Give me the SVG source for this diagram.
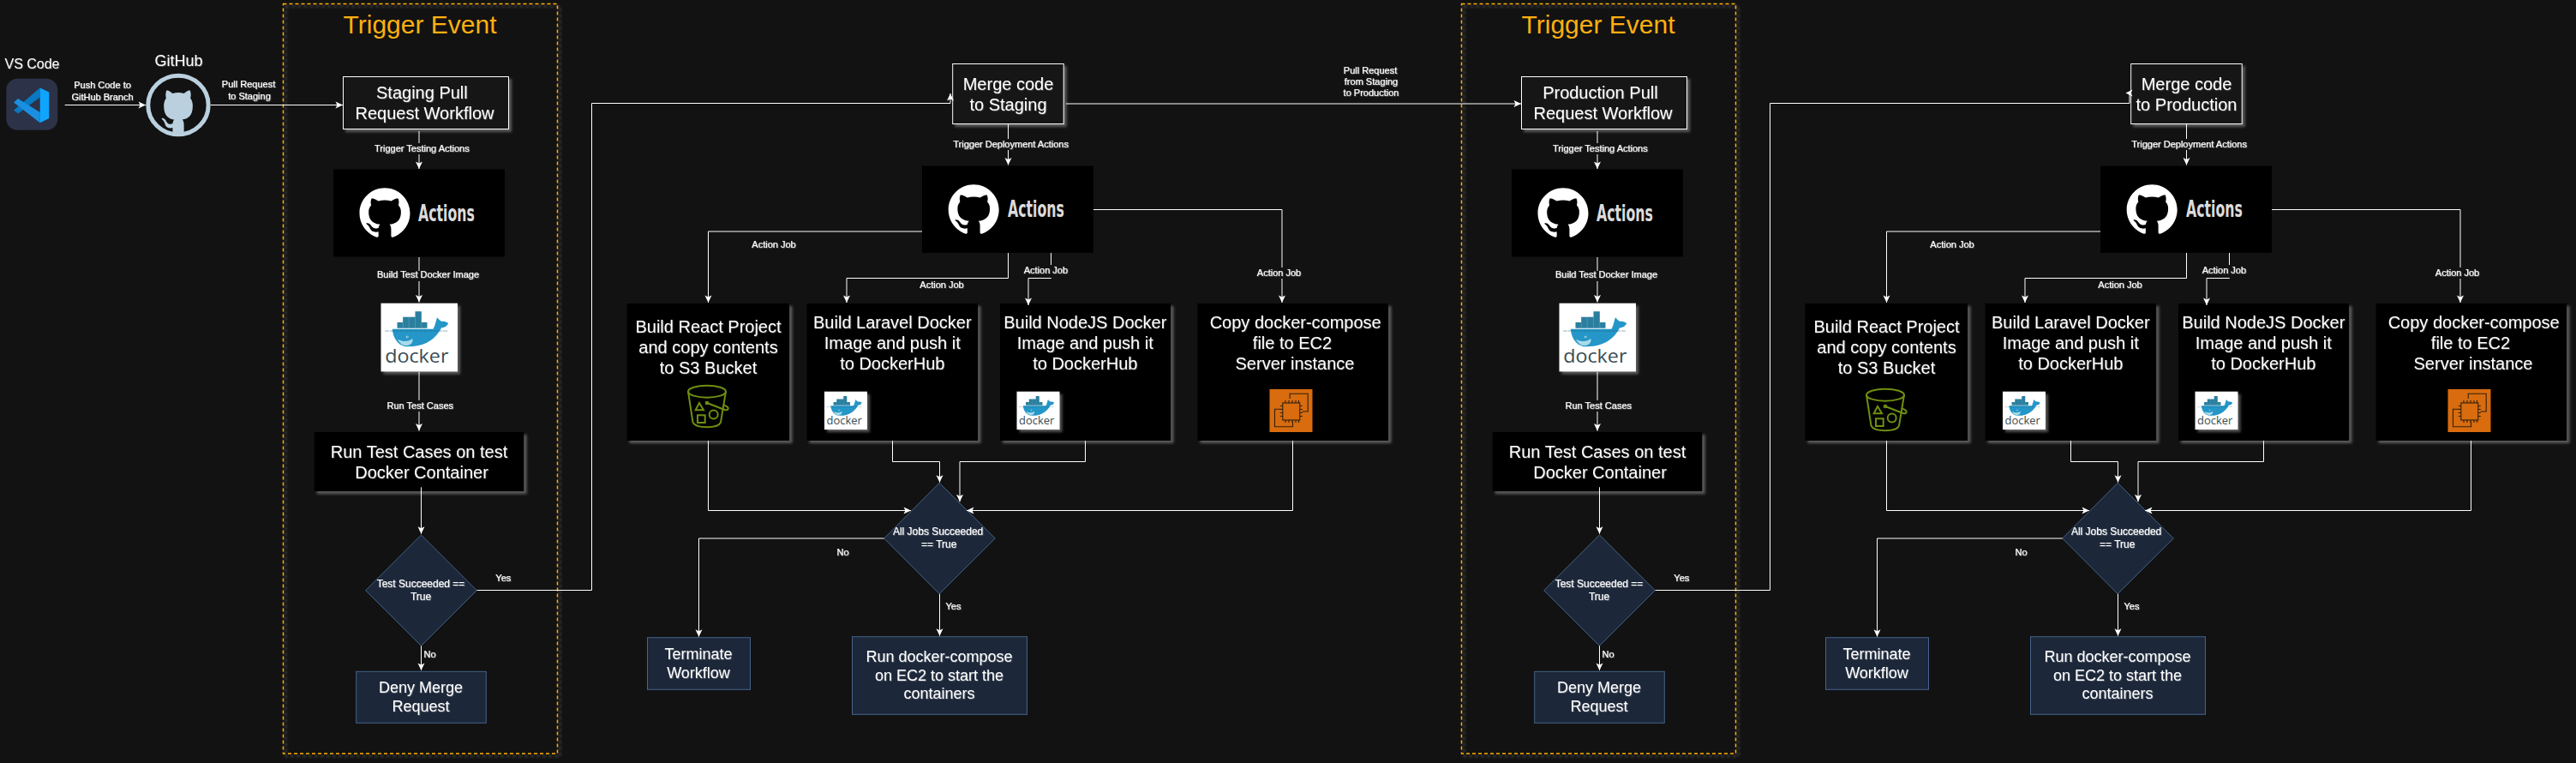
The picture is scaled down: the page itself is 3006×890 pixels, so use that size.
<svg xmlns="http://www.w3.org/2000/svg" width="3006" height="890" viewBox="0 0 3006 890">
<style>
text{font-family:"Liberation Sans",Arial,sans-serif;fill:#fff;text-anchor:middle}
.f11{font-size:11px;stroke:#fff;stroke-width:.2}.f12{font-size:12px;stroke:#fff;stroke-width:.15}.f16{font-size:16px}.f18{font-size:18px}.f20{font-size:20px}
.title{font-size:30px;fill:#ffb010}
.ts{filter:url(#tshadow)}
.shadow{filter:url(#shadow)}
.dash{fill:none;stroke:#ffb000;stroke-width:1.500;stroke-dasharray:4 3}
.wbox{fill:#121212;stroke:#fff;stroke-width:1}
.black{fill:#000}
.navy{fill:#1c2739;stroke:#45628c;stroke-width:1}
.white{fill:#fff}
.c{fill:none;stroke:#fff;stroke-width:1;marker-end:url(#arrow)}
.p{fill:none;stroke:#fff;stroke-width:1}
.lb{fill:#121212;stroke:none}
.act{font-family:"Liberation Sans Narrow","DejaVu Sans Condensed","Liberation Sans",sans-serif;font-size:27px;font-weight:700;fill:#dcdcdc;text-anchor:start}
.dk{font-family:"Open Sans","Liberation Sans",sans-serif;font-size:68px;fill:#394d54;text-anchor:start}
.s3{fill:none;stroke:#6f8f10;stroke-width:2}
.e2{fill:none;stroke:#33200c;stroke-width:1.1}
</style>
<defs>
<filter id="shadow" x="-10%" y="-10%" width="125%" height="125%"><feDropShadow dx="3" dy="3" stdDeviation="1.5" flood-color="#8a8a8a" flood-opacity=".6"/></filter>
<filter id="tshadow" x="-5%" y="-10%" width="110%" height="125%"><feDropShadow dx=".7" dy=".7" stdDeviation=".5" flood-color="#fff" flood-opacity=".3"/></filter>
<marker id="arrow" markerUnits="userSpaceOnUse" markerWidth="11" markerHeight="11" refX="9" refY="5" orient="auto"><path d="M0.5 1L9 5L0.5 9L2.5 5Z" fill="#fff"/></marker>
<path id="mark" fill="#fff" d="M12 .5C5.37.5 0 5.87 0 12.5c0 5.3 3.44 9.8 8.2 11.39.6.11.82-.26.82-.58v-2.03c-3.34.73-4.04-1.61-4.04-1.61-.55-1.39-1.33-1.76-1.33-1.76-1.09-.74.08-.73.08-.73 1.2.09 1.84 1.24 1.84 1.24 1.07 1.83 2.81 1.3 3.49 1 .11-.78.42-1.3.76-1.6-2.66-.3-5.47-1.33-5.47-5.93 0-1.31.47-2.38 1.24-3.22-.12-.3-.54-1.52.12-3.18 0 0 1.01-.32 3.3 1.23a11.5 11.5 0 0 1 6.02 0c2.29-1.55 3.3-1.23 3.3-1.23.66 1.66.24 2.88.12 3.18.77.84 1.24 1.91 1.24 3.22 0 4.61-2.81 5.63-5.48 5.92.43.37.81 1.1.81 2.22v3.29c0 .32.22.7.83.58C20.57 22.3 24 17.8 24 12.5 24 5.87 18.63.5 12 .5z"/>
<g id="whale">
<path fill="#2b7f9e" d="M120 29h22v20h-22zM77 48h65v19H77zM57 67h105v20H57z"/>
<path fill="none" stroke="#7fb6c9" stroke-width="1.2" d="M98 48v19M120 48v39M142 67v20M77 67v20M98 67v20"/>
<path fill="#2496c8" d="M40 90H183C190 80 192 62 197 50C203 58 208 62 213 64C222 62 230 66 236 70C232 80 222 86 212 86C200 110 170 152 95 152C60 152 42 120 40 90Z"/>
<path fill="#a9dbe9" d="M58 126C78 136 98 135 110 124C116 138 100 150 84 148C72 146 64 137 58 126Z"/>
<path fill="none" stroke="#1d5f78" stroke-width="1.5" stroke-dasharray="14 3" d="M14 97H236"/>
<circle cx="92" cy="118" r="4" fill="#e8f5f9"/><circle cx="92" cy="118" r="2" fill="#1d5f78"/>
</g>
<g id="bucket" class="s3">
<ellipse cx="0" cy="0" rx="22" ry="7"/>
<path d="M-22 0L-16.500 36C-13 43.500 13 43.500 16 36L22 0"/>
<path d="M0 13.300L20 21C25 23 26 19 23 17.500C21 16.500 20 16 19 15.500"/>
<circle cx="0" cy="13.300" r="1.300"/>
<path d="M-9 13.300L-13.300 21.600H-4Z"/>
<rect x="-11" y="27.600" width="8.700" height="8.700"/>
<circle cx="7.700" cy="26.700" r="5"/>
</g>
<g id="ec2">
<rect width="50" height="50" fill="#d86c0e"/>
<g class="e2">
<rect x="15.300" y="16" width="20" height="20"/>
<path d="M23.700 11V5.300H44.700V26H38M13.700 23.300H6V43.700H27V37.700"/>
<path d="M18.500 16v-3M22.500 16v-3M26.500 16v-3M30.500 16v-3M34 16v-3M18.500 39v-3M22.500 39v-3M26.500 39v-3M30.500 39v-3M34 39v-3M15.300 19.500h-3M15.300 23.500h-3M15.300 27.500h-3M15.300 31.500h-3M38.300 19.500h-3M38.300 23.500h-3M38.300 27.500h-3M38.300 31.500h-3"/>
</g>
</g>
</defs>
<rect width="3006" height="890" fill="#121212"/>

<g id="trigger-staging">
<rect class="dash shadow" x="330.500" y="4.500" width="320" height="874.500"/>
<text class="title" x="490" y="39">Trigger Event</text>
</g>
<g id="trigger-production" transform="translate(1375 0)">
<rect class="dash shadow" x="330.500" y="4.500" width="320" height="874.500"/>
<text class="title" x="490" y="39">Trigger Event</text>
</g>

<g id="vscode">
<rect x="7.300" y="91.700" width="60" height="60" rx="13" fill="#2c3247"/>
<path fill="#0a78c2" d="M46.700 102.500V113.500L21 132.500L16 128.500Z"/>
<path fill="#1a8fe0" d="M46.700 143.300L16 119.500L21 115L46.700 131Z"/>
<path fill="#0ea5fe" d="M46.700 102.500L57.300 107.500V138L46.700 143.300Z"/>
<text class="f16 ts" x="37.500" y="80">VS Code</text>
</g>
<g id="github">
<ellipse cx="208" cy="122.500" rx="35.200" ry="34.300" fill="none" stroke="#bad0df" stroke-width="5"/>
<path fill="#bad0df" transform="translate(181.600 90.600) scale(2.2 2.75)" d="M9.020 23.310v-2.030c-3.340.73-4.040-1.610-4.040-1.610-.55-1.390-1.330-1.760-1.330-1.760-1.090-.74.08-.73.08-.73 1.200.09 1.840 1.240 1.840 1.240 1.070 1.830 2.810 1.300 3.490 1 .11-.78.42-1.300.76-1.600-2.660-.30-5.470-1.330-5.470-5.930 0-1.310.47-2.380 1.240-3.220-.12-.30-.54-1.520.12-3.180 0 0 1.010-.32 3.300 1.230a11.500 11.500 0 0 1 6.020 0c2.290-1.550 3.300-1.230 3.300-1.230.66 1.660.24 2.880.12 3.180.77.84 1.240 1.910 1.240 3.220 0 4.610-2.810 5.630-5.480 5.920.43.37.81 1.100.81 2.220v3.290z"/>
<text class="f18 ts" x="208.500" y="76.700">GitHub</text>
</g>

<g id="staging-pr">
<rect class="wbox shadow" x="400.500" y="89.500" width="193" height="61"/>
<text class="f20 ts" x="492.400" y="115">Staging Pull</text>
<text class="f20 ts" x="495.500" y="139">Request Workflow</text>
</g>
<g id="staging-actions">
<rect class="black" x="389" y="197.500" width="200" height="102"/>
<use href="#mark" transform="translate(419.500 218) scale(2.458)"/>
<text class="act" x="488" y="257.700" textLength="66" lengthAdjust="spacingAndGlyphs">Actions</text>
</g>
<g id="staging-docker">
<rect class="white shadow" x="444.500" y="353.700" width="89.500" height="79.700"/>
<g transform="translate(444.500 353.700) scale(.3333)"><use href="#whale"/><text class="dk" x="14" y="209" textLength="223" lengthAdjust="spacingAndGlyphs">docker</text></g>
</g>
<g id="staging-run-tests">
<rect class="black shadow" x="366.700" y="504" width="245" height="69.300"/>
<text class="f20 ts" x="489" y="534">Run Test Cases on test</text>
<text class="f20 ts" x="492" y="558.300">Docker Container</text>
</g>
<g id="staging-test-decision">
<path class="navy" d="M491.500 624L556.300 688.700L491.500 753.300L426.700 688.700Z"/>
<text class="f12 ts" x="491" y="685">Test Succeeded ==</text>
<text class="f12 ts" x="491" y="700">True</text>
</g>
<g id="staging-deny">
<rect class="navy" x="415.700" y="783.300" width="151.600" height="60"/>
<text class="f18 ts" x="491" y="808.300">Deny Merge</text>
<text class="f18 ts" x="491" y="830">Request</text>
</g>
<g id="staging-merge">
<rect class="wbox shadow" x="1111.700" y="74.500" width="129.500" height="70"/>
<text class="f20 ts" x="1176.500" y="105">Merge code</text>
<text class="f20 ts" x="1176.500" y="129">to Staging</text>
</g>
<g id="deploy-actions-staging">
<rect class="black" x="1076" y="193.500" width="200" height="101.500"/>
<use href="#mark" transform="translate(1106.700 214) scale(2.458)"/>
<text class="act" x="1176" y="252.700" textLength="66" lengthAdjust="spacingAndGlyphs">Actions</text>
</g>
<g id="staging-card-react">
<rect class="black shadow" x="731.500" y="354" width="190" height="160"/>
<text class="f20 ts" x="826.500" y="387.700">Build React Project</text>
<text class="f20 ts" x="826.500" y="412">and copy contents</text>
<text class="f20 ts" x="826.500" y="435.700">to S3 Bucket</text>
<use href="#bucket" transform="translate(825 456.700)"/>
</g>
<g id="staging-card-laravel">
<rect class="black shadow" x="941.500" y="354" width="200" height="160"/>
<text class="f20 ts" x="1041.300" y="382.700">Build Laravel Docker</text>
<text class="f20 ts" x="1041.300" y="407">Image and push it</text>
<text class="f20 ts" x="1041.300" y="431">to DockerHub</text>
<rect class="white shadow" x="962" y="456.700" width="50" height="44.400"/>
<g transform="translate(962 456.700) scale(.1852)"><use href="#whale"/><text class="dk" x="14" y="209" textLength="223" lengthAdjust="spacingAndGlyphs">docker</text></g>
</g>
<g id="staging-card-node">
<rect class="black shadow" x="1167" y="354" width="199.500" height="160"/>
<text class="f20 ts" x="1266.300" y="382.700">Build NodeJS Docker</text>
<text class="f20 ts" x="1266.300" y="407">Image and push it</text>
<text class="f20 ts" x="1266.300" y="431">to DockerHub</text>
<rect class="white shadow" x="1186.500" y="456.700" width="50" height="44.400"/>
<g transform="translate(1186.500 456.700) scale(.1852)"><use href="#whale"/><text class="dk" x="14" y="209" textLength="223" lengthAdjust="spacingAndGlyphs">docker</text></g>
</g>
<g id="staging-card-copy">
<rect class="black shadow" x="1397.500" y="354" width="223" height="160"/>
<text class="f20 ts" x="1511.700" y="382.700">Copy docker-compose</text>
<text class="f20 ts" x="1508" y="406.700">file to EC2</text>
<text class="f20 ts" x="1511" y="430.700">Server instance</text>
<use href="#ec2" transform="translate(1481.500 454)"/>
</g>
<g id="staging-jobs-decision">
<path class="navy" d="M1096.200 563.300L1161.300 628L1096.200 692.700L1031.700 628Z"/>
<text class="f12 ts" x="1094.600" y="624">All Jobs Succeeded</text>
<text class="f12 ts" x="1095.700" y="639">== True</text>
</g>
<g id="staging-terminate">
<rect class="navy" x="755.500" y="743.700" width="120" height="60.600"/>
<text class="f18 ts" x="815" y="768.700">Terminate</text>
<text class="f18 ts" x="815" y="790.700">Workflow</text>
</g>
<g id="staging-run-compose">
<rect class="navy" x="994.500" y="742.700" width="204" height="90.600"/>
<text class="f18 ts" x="1096" y="771.700">Run docker-compose</text>
<text class="f18 ts" x="1096" y="793.700">on EC2 to start the</text>
<text class="f18 ts" x="1096" y="815">containers</text>
</g>

<g id="production-pr" transform="translate(1375 0)">
<rect class="wbox shadow" x="400.500" y="89.500" width="193" height="61"/>
<text class="f20 ts" x="492.400" y="115">Production Pull</text>
<text class="f20 ts" x="495.500" y="139">Request Workflow</text>
</g>
<g id="production-actions" transform="translate(1375 0)">
<rect class="black" x="389" y="197.500" width="200" height="102"/>
<use href="#mark" transform="translate(419.500 218) scale(2.458)"/>
<text class="act" x="488" y="257.700" textLength="66" lengthAdjust="spacingAndGlyphs">Actions</text>
</g>
<g id="production-docker" transform="translate(1375 0)">
<rect class="white shadow" x="444.500" y="353.700" width="89.500" height="79.700"/>
<g transform="translate(444.500 353.700) scale(.3333)"><use href="#whale"/><text class="dk" x="14" y="209" textLength="223" lengthAdjust="spacingAndGlyphs">docker</text></g>
</g>
<g id="production-run-tests" transform="translate(1375 0)">
<rect class="black shadow" x="366.700" y="504" width="245" height="69.300"/>
<text class="f20 ts" x="489" y="534">Run Test Cases on test</text>
<text class="f20 ts" x="492" y="558.300">Docker Container</text>
</g>
<g id="production-test-decision" transform="translate(1375 0)">
<path class="navy" d="M491.500 624L556.300 688.700L491.500 753.300L426.700 688.700Z"/>
<text class="f12 ts" x="491" y="685">Test Succeeded ==</text>
<text class="f12 ts" x="491" y="700">True</text>
</g>
<g id="production-deny" transform="translate(1375 0)">
<rect class="navy" x="415.700" y="783.300" width="151.600" height="60"/>
<text class="f18 ts" x="491" y="808.300">Deny Merge</text>
<text class="f18 ts" x="491" y="830">Request</text>
</g>
<g id="production-merge" transform="translate(1375 0)">
<rect class="wbox shadow" x="1111.700" y="74.500" width="129.500" height="70"/>
<text class="f20 ts" x="1176.500" y="105">Merge code</text>
<text class="f20 ts" x="1176.500" y="129">to Production</text>
</g>
<g id="deploy-actions-production" transform="translate(1375 0)">
<rect class="black" x="1076" y="193.500" width="200" height="101.500"/>
<use href="#mark" transform="translate(1106.700 214) scale(2.458)"/>
<text class="act" x="1176" y="252.700" textLength="66" lengthAdjust="spacingAndGlyphs">Actions</text>
</g>
<g id="production-card-react" transform="translate(1375 0)">
<rect class="black shadow" x="731.500" y="354" width="190" height="160"/>
<text class="f20 ts" x="826.500" y="387.700">Build React Project</text>
<text class="f20 ts" x="826.500" y="412">and copy contents</text>
<text class="f20 ts" x="826.500" y="435.700">to S3 Bucket</text>
<use href="#bucket" transform="translate(825 460.700)"/>
</g>
<g id="production-card-laravel" transform="translate(1375 0)">
<rect class="black shadow" x="941.500" y="354" width="200" height="160"/>
<text class="f20 ts" x="1041.300" y="382.700">Build Laravel Docker</text>
<text class="f20 ts" x="1041.300" y="407">Image and push it</text>
<text class="f20 ts" x="1041.300" y="431">to DockerHub</text>
<rect class="white shadow" x="962" y="456.700" width="50" height="44.400"/>
<g transform="translate(962 456.700) scale(.1852)"><use href="#whale"/><text class="dk" x="14" y="209" textLength="223" lengthAdjust="spacingAndGlyphs">docker</text></g>
</g>
<g id="production-card-node" transform="translate(1375 0)">
<rect class="black shadow" x="1167" y="354" width="199.500" height="160"/>
<text class="f20 ts" x="1266.300" y="382.700">Build NodeJS Docker</text>
<text class="f20 ts" x="1266.300" y="407">Image and push it</text>
<text class="f20 ts" x="1266.300" y="431">to DockerHub</text>
<rect class="white shadow" x="1186.500" y="456.700" width="50" height="44.400"/>
<g transform="translate(1186.500 456.700) scale(.1852)"><use href="#whale"/><text class="dk" x="14" y="209" textLength="223" lengthAdjust="spacingAndGlyphs">docker</text></g>
</g>
<g id="production-card-copy" transform="translate(1375 0)">
<rect class="black shadow" x="1397.500" y="354" width="223" height="160"/>
<text class="f20 ts" x="1511.700" y="382.700">Copy docker-compose</text>
<text class="f20 ts" x="1508" y="406.700">file to EC2</text>
<text class="f20 ts" x="1511" y="430.700">Server instance</text>
<use href="#ec2" transform="translate(1481.500 454)"/>
</g>
<g id="production-jobs-decision" transform="translate(1375 0)">
<path class="navy" d="M1096.200 563.300L1161.300 628L1096.200 692.700L1031.700 628Z"/>
<text class="f12 ts" x="1094.600" y="624">All Jobs Succeeded</text>
<text class="f12 ts" x="1095.700" y="639">== True</text>
</g>
<g id="production-terminate" transform="translate(1375 0)">
<rect class="navy" x="755.500" y="743.700" width="120" height="60.600"/>
<text class="f18 ts" x="815" y="768.700">Terminate</text>
<text class="f18 ts" x="815" y="790.700">Workflow</text>
</g>
<g id="production-run-compose" transform="translate(1375 0)">
<rect class="navy" x="994.500" y="742.700" width="204" height="90.600"/>
<text class="f18 ts" x="1096" y="771.700">Run docker-compose</text>
<text class="f18 ts" x="1096" y="793.700">on EC2 to start the</text>
<text class="f18 ts" x="1096" y="815">containers</text>
</g>

<g id="connectors">
<path class="c" d="M75.700 122.500H170"/>
<path class="c" d="M246 122.500H400"/>
<text class="f11 ts" x="119.500" y="102.700">Push Code to</text>
<text class="f11 ts" x="119.500" y="116.700">GitHub Branch</text>
<text class="f11 ts" x="290" y="101.700">Pull Request</text>
<text class="f11 ts" x="291" y="115.700">to Staging</text>
<path class="c" d="M1244 121H1775"/>
<text class="f11 ts" x="1599" y="86">Pull Request</text>
<text class="f11 ts" x="1600" y="99">from Staging</text>
<text class="f11 ts" x="1600" y="111.700">to Production</text>
<path class="c" d="M556.500 688.500H690.500V120.500H1109V109"/>
<text class="f11 ts" x="587.300" y="678">Yes</text>
<path class="p" d="M1931.500 688.500H2065.500V120.500H2485V108.500"/>
<path fill="#fff" d="M2480.500 108.500L2488.500 104.500L2486.500 108.500L2488.500 112.500Z"/>
<text class="f11 ts" x="1962.300" y="678">Yes</text>
<g id="connectors-staging">
<path class="c" d="M489 153V197"/><rect class="lb" x="436" y="167" width="113" height="13"/><text class="f11 ts" x="492.400" y="176.700">Trigger Testing Actions</text>
<path class="c" d="M489 300V352.500"/><rect class="lb" x="439" y="316" width="121" height="12"/><text class="f11 ts" x="499.500" y="324.300">Build Test Docker Image</text>
<path class="c" d="M489 434V502.500"/><rect class="lb" x="451" y="467" width="79" height="13"/><text class="f11 ts" x="490.300" y="476.700">Run Test Cases</text>
<path class="c" d="M491.500 568.300V622.700"/>
<path class="c" d="M491.500 753.300V782"/><text class="f11 ts" x="501.500" y="766.700">No</text>
<path class="c" d="M1176.500 144.500V192.500"/><rect class="lb" x="1112" y="162" width="135" height="13"/><text class="f11 ts" x="1179.600" y="171.700">Trigger Deployment Actions</text>
<path class="c" d="M1076 270H826.500V353"/><text class="f11 ts" x="903" y="288.700">Action Job</text>
<path class="c" d="M1176.500 295V324.500H988V353"/><text class="f11 ts" x="1099" y="335.700">Action Job</text>
<path class="c" d="M1226.500 295V324.500H1200V356"/><rect class="lb" x="1194" y="309" width="52" height="15"/><text class="f11 ts" x="1220.400" y="318.700">Action Job</text>
<path class="c" d="M1276 244.500H1496V353"/><rect class="lb" x="1466" y="312" width="53" height="13"/><text class="f11 ts" x="1492.500" y="321.700">Action Job</text>
<path class="c" d="M826.500 514V595.500H1063"/>
<path class="c" d="M1041.500 514V538.500H1096.500V562.700"/>
<path class="c" d="M1266.500 514V538.500H1120V585.300"/>
<path class="c" d="M1508.500 514V595.500H1128"/>
<path class="c" d="M1031.700 628H815.500V742.700"/><text class="f11 ts" x="983.500" y="648.300">No</text>
<path class="c" d="M1096.500 692.700V741.700"/><text class="f11 ts" x="1112.500" y="710.700">Yes</text>
</g>
<g id="connectors-production" transform="translate(1375 0)">
<path class="c" d="M489 153V197"/><rect class="lb" x="436" y="167" width="113" height="13"/><text class="f11 ts" x="492.400" y="176.700">Trigger Testing Actions</text>
<path class="c" d="M489 300V352.500"/><rect class="lb" x="439" y="316" width="121" height="12"/><text class="f11 ts" x="499.500" y="324.300">Build Test Docker Image</text>
<path class="c" d="M489 434V502.500"/><rect class="lb" x="451" y="467" width="79" height="13"/><text class="f11 ts" x="490.300" y="476.700">Run Test Cases</text>
<path class="c" d="M491.500 568.300V622.700"/>
<path class="c" d="M491.500 753.300V782"/><text class="f11 ts" x="501.500" y="766.700">No</text>
<path class="c" d="M1176.500 144.500V192.500"/><rect class="lb" x="1112" y="162" width="135" height="13"/><text class="f11 ts" x="1179.600" y="171.700">Trigger Deployment Actions</text>
<path class="c" d="M1076 270H826.500V353"/><text class="f11 ts" x="903" y="288.700">Action Job</text>
<path class="c" d="M1176.500 295V324.500H988V353"/><text class="f11 ts" x="1099" y="335.700">Action Job</text>
<path class="c" d="M1226.500 295V324.500H1200V356"/><rect class="lb" x="1194" y="309" width="52" height="15"/><text class="f11 ts" x="1220.400" y="318.700">Action Job</text>
<path class="c" d="M1276 244.500H1496V353"/><rect class="lb" x="1466" y="312" width="53" height="13"/><text class="f11 ts" x="1492.500" y="321.700">Action Job</text>
<path class="c" d="M826.500 514V595.500H1063"/>
<path class="c" d="M1041.500 514V538.500H1096.500V562.700"/>
<path class="c" d="M1266.500 514V538.500H1120V585.300"/>
<path class="c" d="M1508.500 514V595.500H1128"/>
<path class="c" d="M1031.700 628H815.500V742.700"/><text class="f11 ts" x="983.500" y="648.300">No</text>
<path class="c" d="M1096.500 692.700V741.700"/><text class="f11 ts" x="1112.500" y="710.700">Yes</text>
</g>
</g>
</svg>
